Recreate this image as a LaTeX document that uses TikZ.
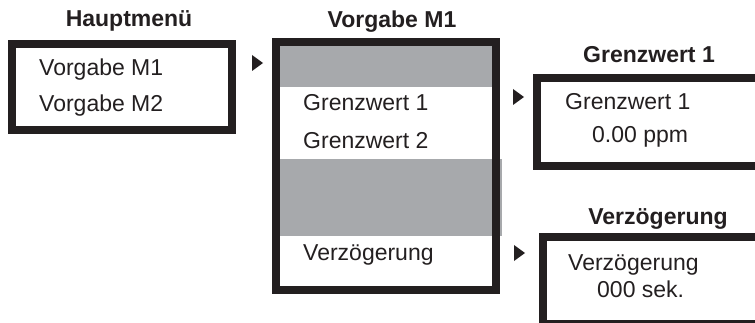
\documentclass[tikz,border=0pt]{standalone}
\usepackage{fontspec}
\setmainfont{Liberation Sans}
\definecolor{ink}{HTML}{231F20}
\definecolor{band}{HTML}{A7A9AC}
\tikzset{
  frame/.style={draw=ink, line width=8pt},
  label/.style={inner sep=0pt, anchor=base west, text=ink, font=\fontsize{23}{27}\selectfont},
  title/.style={inner sep=0pt, anchor=base, text=ink, font=\fontsize{23}{27}\selectfont\bfseries},
  marker/.style={fill=ink},
}
\begin{document}
\begin{tikzpicture}[x=1pt,y=-1pt]
\useasboundingbox (0,0) rectangle (755,323);
\clip (0,0) rectangle (755,323);
% gray bands
\fill[band] (280,46) rectangle (492,87);
\fill[band] (280,159) rectangle (502,236);
% frames
\draw[frame] (12,44) rectangle (232,130);
\draw[frame] (276,42) rectangle (496,290);
\draw[frame] (537,78) rectangle (800,166);
\draw[frame] (543,237) rectangle (800,324);
% titles
\node[title] (tH) at (129,27) {Hauptmenü};
\node[title] (tV) at (392,28) {Vorgabe M1};
\node[title] (tG) at (649,63) {Grenzwert 1};
\node[title] (tZ) at (658,225) {Verzögerung};
% texts
\node[label] (h1) at (39,76) {Vorgabe M1};
\node[label] (h2) at (39,112) {Vorgabe M2};
\node[label] (v1) at (303,111) {Grenzwert 1};
\node[label] (v2) at (303,149) {Grenzwert 2};
\node[label] (v3) at (303,261) {Verzögerung};
\node[label] (g1) at (565,110) {Grenzwert 1};
\node[label] (g2) at (592,143) {0.00 ppm};
\node[label] (z1) at (568,270) {Verzögerung};
\node[label] (z2) at (597,297) {000 sek.};
% markers
\fill[marker] (252,55) -- (263,63) -- (252,71) -- cycle;
\fill[marker] (513,89) -- (524,97) -- (513,105) -- cycle;
\fill[marker] (514,245) -- (525,253) -- (514,261) -- cycle;
\end{tikzpicture}
\end{document}
